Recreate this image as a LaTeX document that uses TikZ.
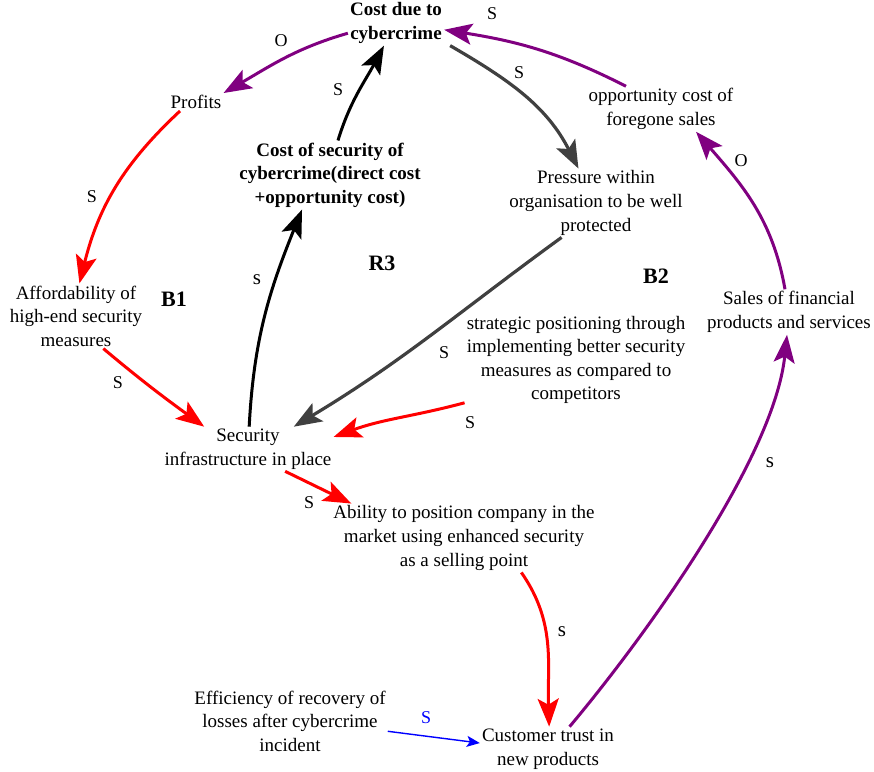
\documentclass[tikz,border=0pt]{standalone}
\usepackage{fontspec}
\setmainfont{Liberation Serif}
\usetikzlibrary{arrows.meta}

\definecolor{linkpurple}{HTML}{800080}
\definecolor{linkgray}{HTML}{404040}

\begin{document}
\begin{tikzpicture}[x=1pt,y=1pt,
  var/.style={align=center, inner sep=2pt, font=\fontsize{19}{23.6}\selectfont},
  varb/.style={var, font=\fontsize{19}{23.6}\selectfont\bfseries},
  loopname/.style={inner sep=0pt, font=\fontsize{22}{24}\selectfont\bfseries},
  pol/.style={inner sep=0pt, font=\fontsize{18}{20}\selectfont},
  polsmall/.style={inner sep=0pt, font=\fontsize{21}{22}\selectfont},
  link/.style={line width=3pt, -{Stealth[length=28pt,width=21pt,inset=6pt]}},
  redlink/.style={link, draw=red},
  blacklink/.style={link, draw=black},
  graylink/.style={link, draw=linkgray, line width=3.2pt},
  purplelink/.style={link, draw=linkpurple},
  bluelink/.style={draw=blue, line width=1.4pt, -{Stealth[length=13pt,width=11pt,inset=3pt]}},
]
\useasboundingbox (0,0) rectangle (874,-771);

% variables
\node[varb] (cost)       at (396,-23)  {Cost due to\\cybercrime};
\node[var]  (profits)    at (196,-102) {Profits};
\node[var]  (opp)        at (661,-109) {opportunity cost of\\foregone sales};
\node[varb] (costsec)    at (330,-175) {Cost of security of\\cybercrime(direct cost\\+opportunity cost)};
\node[var]  (pressure)   at (596,-203) {Pressure within\\organisation to be well\\protected};
\node[var]  (afford)     at (76,-316)  {Affordability of\\high-end security\\measures};
\node[var]  (sales)      at (789,-312) {Sales of financial\\products and services};
\node[var]  (strategic)  at (576,-360) {strategic positioning through\\implementing better security\\measures as compared to\\competitors};
\node[var]  (security)   at (248,-449) {Security\\infrastructure in place};
\node[var]  (ability)    at (464,-538) {Ability to position company in the\\market using enhanced security\\as a selling point};
\node[var]  (efficiency) at (290,-721) {Efficiency of recovery of\\losses after cybercrime\\incident};
\node[var]  (customer)   at (548,-749) {Customer trust in\\new products};

% loop names
\node[loopname] (b1) at (174,-299) {B1};
\node[loopname] (r3) at (382,-263) {R3};
\node[loopname] (b2) at (656,-276) {B2};

% causal links
\draw[purplelink] (cost.192) to[out=196,in=30] (profits.north east);
\draw[redlink] ([xshift=-16pt]profits.south) to[out=223,in=76] (afford.84);
\draw[redlink] (afford.-50) to[out=-40,in=144] (security.153);
\draw[blacklink] (security.87) to[out=87,in=248] (costsec.231);
\draw[blacklink] (costsec.77) to[out=73,in=242] (cost.242);
\draw[graylink] ([xshift=6pt]cost.south east) to[out=-30,in=117] (pressure.117);
\draw[graylink] (pressure.225) to[out=216,in=31] (security.26);
\draw[redlink] (strategic.201) to[out=195,in=20] (security.8);
\draw[redlink] (security.-31) -- (ability.163);
\draw[redlink] (ability.-31) to[out=-55,in=92] (customer.87);
\draw[purplelink] (customer.46) to[out=50,in=264,looseness=0.7] (sales.265);
\draw[purplelink] (sales.100) to[out=100,in=311] (opp.-33);
\draw[purplelink] (opp.147) to[out=153,in=-9] (cost.-8);
\draw[bluelink] (efficiency.-6) -- (customer.175);

% polarities
\node[pol] (p1)  at (492,-14)  {S};
\node[pol] (p2)  at (519,-73)  {S};
\node[pol] (p3)  at (338,-90)  {S};
\node[pol] (p4)  at (281,-41)  {O};
\node[pol] (p5)  at (92,-197)  {S};
\node[pol] (p6)  at (118,-383) {S};
\node[polsmall] (p7)  at (257,-280) {s};
\node[pol] (p8)  at (444,-353) {S};
\node[pol] (p9)  at (470,-423) {S};
\node[pol] (p10) at (309,-503) {S};
\node[polsmall] (p11) at (562,-632) {s};
\node[polsmall] (p12) at (770,-463) {s};
\node[pol] (p13) at (741,-161) {O};
\node[pol, text=blue] (p14) at (426,-718) {S};
\end{tikzpicture}
\end{document}
